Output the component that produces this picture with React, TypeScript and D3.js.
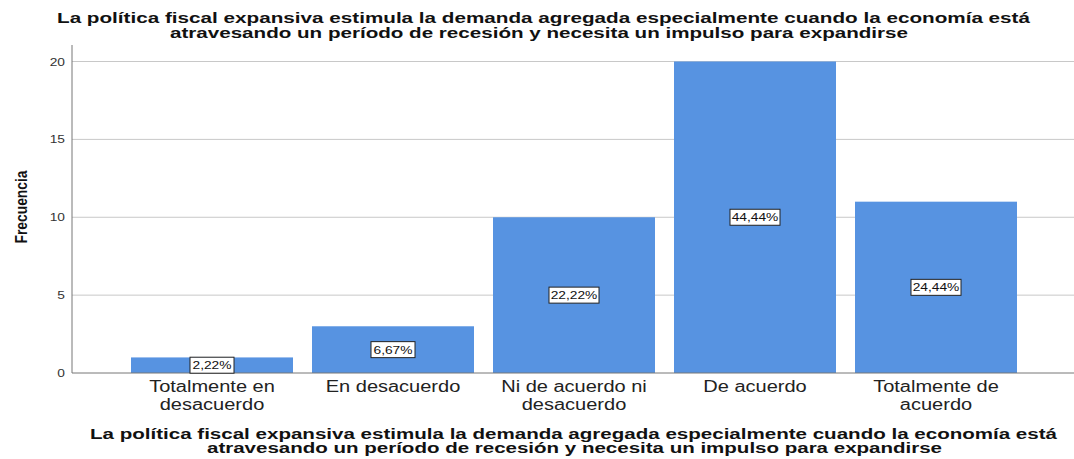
import React from "react";
import * as d3 from "d3";

const title = [
  "La política fiscal expansiva estimula la demanda agregada especialmente cuando la economía está",
  "atravesando un período de recesión y necesita un impulso para expandirse",
];
const categories = [
  ["Totalmente en", "desacuerdo"],
  ["En desacuerdo"],
  ["Ni de acuerdo ni", "desacuerdo"],
  ["De acuerdo"],
  ["Totalmente de", "acuerdo"],
];
const counts = [1, 3, 10, 20, 11];
const percents = ["2,22%", "6,67%", "22,22%", "44,44%", "24,44%"];
const yTicks = [0, 5, 10, 15, 20];

const W = 1074;
const H = 459;
const plotLeft = 72;
const plotTop = 45;
const plotBottom = 373;
const sx = 1.25; // source picture is stretched horizontally

export default function App() {
  const x = d3
    .scaleBand<number>()
    .domain(d3.range(counts.length))
    .range([121.5, 1026.5])
    .paddingInner(0.105)
    .paddingOuter(0.0525);

  const y = d3.scaleLinear().domain([0, 20]).range([plotBottom, 61.5]);

  return (
    <svg
      width={W}
      height={H}
      style={{ position: "absolute", left: 0, top: 0, background: "#fff" }}
      fontFamily="'Liberation Sans', Arial, sans-serif"
    >
      {/* title */}
      {title.map((t, i) => (
        <text
          key={i}
          x={i === 0 ? 57 : 170}
          y={23 + i * 15}
          fontWeight="bold"
          fontSize={15}
          fill="#111"
          textLength={i === 0 ? 973 : 738}
          lengthAdjust="spacingAndGlyphs"
        >
          {t}
        </text>
      ))}

      {/* gridlines */}
      {yTicks
        .filter((t) => t > 0)
        .map((t) => (
          <line key={t} x1={plotLeft} x2={W} y1={y(t)} y2={y(t)} stroke="#c8c8c8" strokeWidth={1} />
        ))}

      {/* bars */}
      {counts.map((c, i) => (
        <rect
          key={i}
          x={x(i)}
          y={y(c)}
          width={x.bandwidth()}
          height={plotBottom - y(c)}
          fill="#5793e1"
        />
      ))}

      {/* axes */}
      <line x1={plotLeft} x2={W} y1={plotBottom} y2={plotBottom} stroke="#777" strokeWidth={1} />
      <line x1={plotLeft} x2={plotLeft} y1={plotTop} y2={plotBottom} stroke="#777" strokeWidth={1} />

      {/* y ticks */}
      {yTicks.map((t) => (
        <text
          key={t}
          transform={`translate(65,${y(t) + 4}) scale(${sx},1)`}
          textAnchor="end"
          fontSize={11}
          fill="#333"
        >
          {t}
        </text>
      ))}

      {/* y title */}
      <text
        transform="translate(27,207) rotate(-90)"
        textAnchor="middle"
        fontWeight="bold"
        fontSize={17}
        fill="#111"
        textLength={73}
        lengthAdjust="spacingAndGlyphs"
      >
        Frecuencia
      </text>

      {/* value labels */}
      {counts.map((c, i) => {
        const cx = (x(i) as number) + x.bandwidth() / 2;
        const cy = (y(c) + plotBottom) / 2;
        const bw = percents[i].length === 5 ? 44 : 50;
        return (
          <g key={i}>
            <rect x={cx - bw / 2} y={cy - 8} width={bw} height={16} fill="#fff" stroke="#222" strokeWidth={1} />
            <text
              transform={`translate(${cx},${cy + 4}) scale(${sx},1)`}
              textAnchor="middle"
              fontSize={11}
              fill="#111"
            >
              {percents[i]}
            </text>
          </g>
        );
      })}

      {/* category labels */}
      {categories.map((lines, i) => {
        const cx = (x(i) as number) + x.bandwidth() / 2;
        return lines.map((l, j) => (
          <text
            key={`${i}-${j}`}
            transform={`translate(${cx},${392 + j * 18}) scale(${sx},1)`}
            textAnchor="middle"
            fontSize={16}
            fill="#222"
          >
            {l}
          </text>
        ));
      })}

      {/* x title */}
      {title.map((t, i) => (
        <text
          key={i}
          x={i === 0 ? 90 : 207}
          y={439 + i * 14}
          fontWeight="bold"
          fontSize={14}
          fill="#111"
          textLength={i === 0 ? 967 : 735}
          lengthAdjust="spacingAndGlyphs"
        >
          {t}
        </text>
      ))}
    </svg>
  );
}
